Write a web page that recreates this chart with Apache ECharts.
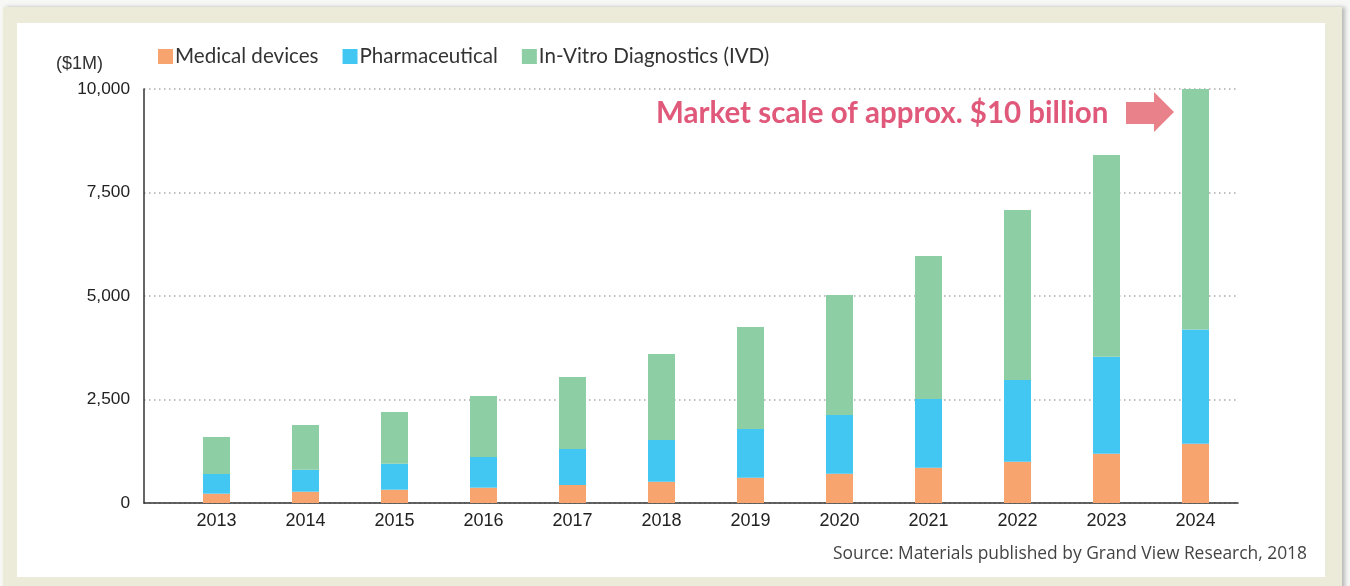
<!DOCTYPE html>
<html><head><meta charset="utf-8">
<script src="https://cdn.jsdelivr.net/npm/echarts@6/dist/echarts.min.js"></script>
<style>html,body{margin:0;padding:0;background:#f7f7f5;}#c{width:1350px;height:586px;}</style>
</head><body><div id="c"></div>
<script>
const years = ['2013','2014','2015','2016','2017','2018','2019','2020','2021','2022','2023','2024'];
// stacked segment values ($1M)
const medical = [225, 273, 321, 370, 435, 515, 612, 708, 853, 998, 1191, 1432];
const pharma  = [475, 531, 628, 741, 869, 1007, 1175, 1418, 1659, 1973, 2340, 2760];
const ivd     = [894, 1080, 1249, 1474, 1739, 2077, 2464, 2898, 3454, 4106, 4872, 5808];
const yTicks = [0, 2500, 5000, 7500, 10000];
const seriesNames = ['Medical devices', 'Pharmaceutical', 'In-Vitro Diagnostics (IVD)'];
const annotation = 'Market scale of approx. $10 billion';
const unitLabel = '($1M)';
const sourceText = 'Source: Materials published by Grand View Research, 2018';

const chart = echarts.init(document.getElementById('c'), null, {renderer: 'canvas'});
const colors = ['#f8a46f', '#42c7f3', '#8ecea4'];
const option = {
  animation: false,
  backgroundColor: 'transparent',
  color: colors,
  legend: {
    data: seriesNames,
    left: 153, top: 41,
    icon: 'rect', itemWidth: 15, itemHeight: 15, itemGap: 24,
    textStyle: {fontFamily: 'Lato', fontSize: 20.6, color: '#333', padding: [0,0,0,-3]}
  },
  graphic: [
    {type: 'rect', z: -10, shape: {x: 3, y: 7, width: 1339, height: 590},
     style: {fill: '#ecead9', shadowBlur: 4, shadowColor: 'rgba(0,0,0,0.25)', shadowOffsetX: 3, shadowOffsetY: 0}},
    {type: 'rect', z: -9, shape: {x: 17, y: 23, width: 1308, height: 554}, style: {fill: '#ffffff'}},
    {type: 'text', x: 56, y: 64, style: {text: unitLabel, font: '18px "Liberation Sans", Arial, sans-serif', fill: '#333', verticalAlign: 'middle'}},
    {type: 'text', x: 656, y: 113, style: {text: annotation, font: 'bold 29.5px Lato, sans-serif', fill: '#e0597a', verticalAlign: 'middle'}},
    {type: 'polygon', shape: {points: [[1126,102],[1154,102],[1154,92],[1174,112],[1154,132],[1154,124],[1126,124]]},
     style: {fill: '#e8818a'}},
    {type: 'text', x: 1307, y: 554, style: {text: sourceText, font: '17.4px "Open Sans", sans-serif', fill: '#444', align: 'right', verticalAlign: 'middle'}}
  ],
  grid: [
    {left: 144, right: 112, top: 89, bottom: 83, containLabel: false},
    {left: 172, right: 110, top: 89, bottom: 83, containLabel: false}
  ],
  xAxis: [
    {type: 'category', gridIndex: 0, data: years, boundaryGap: true,
     axisLine: {show: true, lineStyle: {color: '#333', width: 1.5}},
     axisTick: {show: false}, axisLabel: {show: false}, splitLine: {show: false}},
    {type: 'category', gridIndex: 1, data: years, boundaryGap: true,
     axisLine: {show: false}, axisTick: {show: false},
     axisLabel: {show: true, margin: 9, fontFamily: '"Liberation Sans", Arial, sans-serif', fontSize: 18, color: '#222'}}
  ],
  yAxis: [
    {type: 'value', gridIndex: 0, min: 0, max: 10000, interval: 2500,
     axisLine: {show: true, lineStyle: {color: '#333', width: 1.5}},
     axisTick: {show: false},
     axisLabel: {margin: 14, fontFamily: '"Liberation Sans", Arial, sans-serif', fontSize: 17.3, color: '#222',
       formatter: v => yTicks.includes(v) ? v.toLocaleString('en-US') : ''},
     splitLine: {show: true, lineStyle: {color: '#aaa', width: 1.5, type: [1.5, 3.5]}}},
    {type: 'value', gridIndex: 1, min: 0, max: 10000, interval: 2500, show: false, splitLine: {show: false}}
  ],
  series: [
    {name: seriesNames[0], type: 'bar', stack: 'a', xAxisIndex: 1, yAxisIndex: 1, barWidth: 27, data: medical, z: 3},
    {name: seriesNames[1], type: 'bar', stack: 'a', xAxisIndex: 1, yAxisIndex: 1, barWidth: 27, data: pharma, z: 3},
    {name: seriesNames[2], type: 'bar', stack: 'a', xAxisIndex: 1, yAxisIndex: 1, barWidth: 27, data: ivd, z: 3}
  ]
};
chart.setOption(option);
</script></body></html>
